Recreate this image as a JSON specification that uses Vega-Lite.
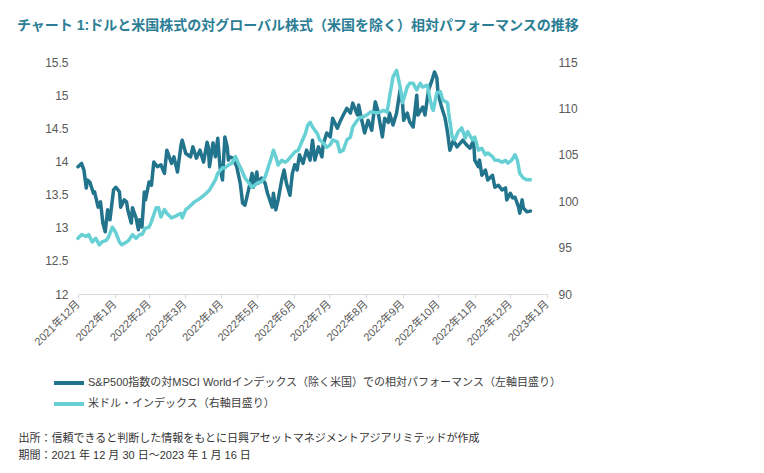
{
  "$schema": "https://vega.github.io/schema/vega-lite/v6.json",
  "autosize": {"type": "none"},
  "width": 469,
  "height": 232,
  "padding": {"left": 78, "top": 62, "right": 217, "bottom": 179},
  "background": "white",
  "config": {
    "view": {"stroke": null},
    "font": "Liberation Sans, Noto Sans CJK JP",
    "axis": {"grid": false, "labelFont": "Liberation Sans, Noto Sans CJK JP", "titleFont": "Liberation Sans, Noto Sans CJK JP"},
    "legend": {"labelFont": "Liberation Sans, Noto Sans CJK JP"}
  },
  "title": {
    "text": "チャート 1:ドルと米国株式の対グローバル株式（米国を除く）相対パフォーマンスの推移",
    "anchor": "start",
    "frame": "group",
    "dx": -61,
    "offset": 23,
    "fontSize": 14,
    "fontWeight": "bold",
    "color": "#2B7E95",
    "font": "Liberation Sans, Noto Sans CJK JP"
  },
  "datasets": {
    "sp": [
      {"d": "2021-12-30", "v": 13.92}, {"d": "2022-01-02", "v": 13.97}, {"d": "2022-01-04", "v": 13.87}, {"d": "2022-01-06", "v": 13.6},
      {"d": "2022-01-07", "v": 13.72}, {"d": "2022-01-09", "v": 13.69}, {"d": "2022-01-12", "v": 13.52}, {"d": "2022-01-13", "v": 13.54},
      {"d": "2022-01-16", "v": 13.31}, {"d": "2022-01-18", "v": 13.39}, {"d": "2022-01-20", "v": 13.07}, {"d": "2022-01-22", "v": 12.94},
      {"d": "2022-01-24", "v": 13.27}, {"d": "2022-01-26", "v": 13.12}, {"d": "2022-01-29", "v": 13.57}, {"d": "2022-01-31", "v": 13.61},
      {"d": "2022-02-03", "v": 13.54}, {"d": "2022-02-04", "v": 13.31}, {"d": "2022-02-07", "v": 13.42}, {"d": "2022-02-09", "v": 13.39},
      {"d": "2022-02-10", "v": 13.27}, {"d": "2022-02-13", "v": 13.07}, {"d": "2022-02-14", "v": 13.3}, {"d": "2022-02-17", "v": 13.15},
      {"d": "2022-02-19", "v": 12.97}, {"d": "2022-02-20", "v": 13.12}, {"d": "2022-02-22", "v": 13.01}, {"d": "2022-02-24", "v": 13.54},
      {"d": "2022-02-25", "v": 13.42}, {"d": "2022-02-28", "v": 13.69}, {"d": "2022-03-02", "v": 13.64}, {"d": "2022-03-04", "v": 13.99},
      {"d": "2022-03-07", "v": 13.92}, {"d": "2022-03-10", "v": 13.95}, {"d": "2022-03-13", "v": 13.82}, {"d": "2022-03-15", "v": 14.17},
      {"d": "2022-03-19", "v": 13.97}, {"d": "2022-03-21", "v": 14.07}, {"d": "2022-03-24", "v": 13.84}, {"d": "2022-03-27", "v": 14.25},
      {"d": "2022-03-28", "v": 14.32}, {"d": "2022-03-31", "v": 14.12}, {"d": "2022-04-04", "v": 14.07}, {"d": "2022-04-06", "v": 14.22},
      {"d": "2022-04-09", "v": 14.05}, {"d": "2022-04-12", "v": 14.17}, {"d": "2022-04-15", "v": 13.99}, {"d": "2022-04-18", "v": 14.29},
      {"d": "2022-04-19", "v": 14.22}, {"d": "2022-04-20", "v": 13.92}, {"d": "2022-04-23", "v": 14.28}, {"d": "2022-04-25", "v": 14.07},
      {"d": "2022-04-27", "v": 14.35}, {"d": "2022-04-29", "v": 13.9}, {"d": "2022-05-01", "v": 13.72}, {"d": "2022-05-03", "v": 14.37},
      {"d": "2022-05-05", "v": 14.22}, {"d": "2022-05-06", "v": 14.02}, {"d": "2022-05-07", "v": 14.07}, {"d": "2022-05-10", "v": 14.05},
      {"d": "2022-05-13", "v": 13.92}, {"d": "2022-05-16", "v": 13.67}, {"d": "2022-05-18", "v": 13.37}, {"d": "2022-05-20", "v": 13.34},
      {"d": "2022-05-23", "v": 13.57}, {"d": "2022-05-26", "v": 13.82}, {"d": "2022-05-27", "v": 13.61}, {"d": "2022-05-30", "v": 13.84},
      {"d": "2022-05-31", "v": 13.67}, {"d": "2022-06-03", "v": 13.75}, {"d": "2022-06-06", "v": 13.67}, {"d": "2022-06-08", "v": 13.52},
      {"d": "2022-06-12", "v": 13.31}, {"d": "2022-06-13", "v": 13.52}, {"d": "2022-06-15", "v": 13.27}, {"d": "2022-06-17", "v": 13.42},
      {"d": "2022-06-20", "v": 13.72}, {"d": "2022-06-22", "v": 13.87}, {"d": "2022-06-24", "v": 13.67}, {"d": "2022-06-27", "v": 13.49},
      {"d": "2022-06-29", "v": 13.82}, {"d": "2022-07-01", "v": 13.95}, {"d": "2022-07-03", "v": 13.87}, {"d": "2022-07-05", "v": 14.1},
      {"d": "2022-07-08", "v": 13.97}, {"d": "2022-07-11", "v": 14.17}, {"d": "2022-07-14", "v": 14.02}, {"d": "2022-07-16", "v": 14.32},
      {"d": "2022-07-18", "v": 14.02}, {"d": "2022-07-21", "v": 14.22}, {"d": "2022-07-24", "v": 14.07}, {"d": "2022-07-25", "v": 14.25},
      {"d": "2022-07-28", "v": 14.43}, {"d": "2022-07-31", "v": 14.37}, {"d": "2022-08-02", "v": 14.65}, {"d": "2022-08-06", "v": 14.5},
      {"d": "2022-08-08", "v": 14.59}, {"d": "2022-08-11", "v": 14.7}, {"d": "2022-08-14", "v": 14.8}, {"d": "2022-08-17", "v": 14.73},
      {"d": "2022-08-19", "v": 14.88}, {"d": "2022-08-23", "v": 14.7}, {"d": "2022-08-24", "v": 14.85}, {"d": "2022-08-27", "v": 14.59},
      {"d": "2022-08-29", "v": 14.43}, {"d": "2022-09-01", "v": 14.62}, {"d": "2022-09-04", "v": 14.47}, {"d": "2022-09-07", "v": 14.9},
      {"d": "2022-09-09", "v": 14.78}, {"d": "2022-09-13", "v": 14.37}, {"d": "2022-09-15", "v": 14.65}, {"d": "2022-09-18", "v": 14.59},
      {"d": "2022-09-19", "v": 14.73}, {"d": "2022-09-22", "v": 14.55}, {"d": "2022-09-25", "v": 14.73}, {"d": "2022-09-28", "v": 15.08},
      {"d": "2022-09-30", "v": 14.88}, {"d": "2022-10-01", "v": 14.62}, {"d": "2022-10-04", "v": 14.73}, {"d": "2022-10-06", "v": 14.6},
      {"d": "2022-10-09", "v": 14.52}, {"d": "2022-10-12", "v": 15.0}, {"d": "2022-10-13", "v": 14.7}, {"d": "2022-10-17", "v": 14.82},
      {"d": "2022-10-19", "v": 14.7}, {"d": "2022-10-22", "v": 15.08}, {"d": "2022-10-25", "v": 15.23}, {"d": "2022-10-27", "v": 15.35},
      {"d": "2022-10-29", "v": 15.26}, {"d": "2022-10-30", "v": 15.03}, {"d": "2022-11-02", "v": 14.82}, {"d": "2022-11-05", "v": 14.65},
      {"d": "2022-11-07", "v": 14.44}, {"d": "2022-11-09", "v": 14.17}, {"d": "2022-11-12", "v": 14.32}, {"d": "2022-11-15", "v": 14.22},
      {"d": "2022-11-18", "v": 14.28}, {"d": "2022-11-20", "v": 14.32}, {"d": "2022-11-23", "v": 14.25}, {"d": "2022-11-26", "v": 14.2},
      {"d": "2022-11-29", "v": 14.32}, {"d": "2022-11-30", "v": 14.02}, {"d": "2022-12-03", "v": 13.92}, {"d": "2022-12-04", "v": 14.02},
      {"d": "2022-12-06", "v": 13.79}, {"d": "2022-12-09", "v": 13.87}, {"d": "2022-12-11", "v": 13.72}, {"d": "2022-12-15", "v": 13.79},
      {"d": "2022-12-17", "v": 13.61}, {"d": "2022-12-20", "v": 13.64}, {"d": "2022-12-23", "v": 13.57}, {"d": "2022-12-26", "v": 13.6},
      {"d": "2022-12-27", "v": 13.42}, {"d": "2022-12-30", "v": 13.52}, {"d": "2023-01-01", "v": 13.45}, {"d": "2023-01-03", "v": 13.46},
      {"d": "2023-01-06", "v": 13.31}, {"d": "2023-01-07", "v": 13.22}, {"d": "2023-01-09", "v": 13.42}, {"d": "2023-01-10", "v": 13.3},
      {"d": "2023-01-13", "v": 13.24}, {"d": "2023-01-16", "v": 13.25}
    ],
    "usd": [
      {"d": "2021-12-30", "v": 96.0}, {"d": "2022-01-02", "v": 96.4}, {"d": "2022-01-06", "v": 96.2}, {"d": "2022-01-08", "v": 96.4},
      {"d": "2022-01-11", "v": 95.6}, {"d": "2022-01-14", "v": 96.0}, {"d": "2022-01-17", "v": 95.3}, {"d": "2022-01-19", "v": 95.6},
      {"d": "2022-01-23", "v": 95.8}, {"d": "2022-01-25", "v": 96.2}, {"d": "2022-01-28", "v": 97.2}, {"d": "2022-01-31", "v": 96.6},
      {"d": "2022-02-03", "v": 95.6}, {"d": "2022-02-05", "v": 95.3}, {"d": "2022-02-09", "v": 95.6}, {"d": "2022-02-11", "v": 95.8},
      {"d": "2022-02-14", "v": 96.4}, {"d": "2022-02-17", "v": 96.0}, {"d": "2022-02-20", "v": 96.4}, {"d": "2022-02-22", "v": 96.4},
      {"d": "2022-02-25", "v": 97.1}, {"d": "2022-02-28", "v": 97.2}, {"d": "2022-03-02", "v": 97.8}, {"d": "2022-03-06", "v": 99.3},
      {"d": "2022-03-08", "v": 99.3}, {"d": "2022-03-10", "v": 98.3}, {"d": "2022-03-13", "v": 99.1}, {"d": "2022-03-15", "v": 98.7},
      {"d": "2022-03-19", "v": 98.2}, {"d": "2022-03-21", "v": 98.3}, {"d": "2022-03-24", "v": 98.5}, {"d": "2022-03-27", "v": 98.7},
      {"d": "2022-03-28", "v": 98.2}, {"d": "2022-03-31", "v": 99.1}, {"d": "2022-04-03", "v": 99.4}, {"d": "2022-04-07", "v": 99.9},
      {"d": "2022-04-12", "v": 100.3}, {"d": "2022-04-16", "v": 100.7}, {"d": "2022-04-20", "v": 101.2}, {"d": "2022-04-25", "v": 102.3},
      {"d": "2022-04-27", "v": 103.0}, {"d": "2022-05-01", "v": 103.6}, {"d": "2022-05-03", "v": 103.6}, {"d": "2022-05-06", "v": 103.9},
      {"d": "2022-05-09", "v": 104.1}, {"d": "2022-05-12", "v": 104.8}, {"d": "2022-05-14", "v": 104.2}, {"d": "2022-05-17", "v": 103.4},
      {"d": "2022-05-20", "v": 102.5}, {"d": "2022-05-23", "v": 102.0}, {"d": "2022-05-26", "v": 101.5}, {"d": "2022-05-28", "v": 101.7},
      {"d": "2022-05-31", "v": 102.0}, {"d": "2022-06-03", "v": 102.1}, {"d": "2022-06-06", "v": 102.6}, {"d": "2022-06-08", "v": 103.4},
      {"d": "2022-06-12", "v": 105.0}, {"d": "2022-06-13", "v": 105.5}, {"d": "2022-06-15", "v": 104.8}, {"d": "2022-06-17", "v": 103.9},
      {"d": "2022-06-20", "v": 104.4}, {"d": "2022-06-23", "v": 104.2}, {"d": "2022-06-25", "v": 104.4}, {"d": "2022-06-29", "v": 105.0},
      {"d": "2022-07-01", "v": 105.3}, {"d": "2022-07-04", "v": 105.5}, {"d": "2022-07-07", "v": 106.4}, {"d": "2022-07-10", "v": 107.3},
      {"d": "2022-07-12", "v": 108.2}, {"d": "2022-07-14", "v": 108.5}, {"d": "2022-07-16", "v": 108.0}, {"d": "2022-07-20", "v": 107.3},
      {"d": "2022-07-22", "v": 106.6}, {"d": "2022-07-25", "v": 106.3}, {"d": "2022-07-28", "v": 105.8}, {"d": "2022-07-31", "v": 106.1},
      {"d": "2022-08-02", "v": 106.6}, {"d": "2022-08-06", "v": 106.4}, {"d": "2022-08-08", "v": 105.3}, {"d": "2022-08-11", "v": 105.5},
      {"d": "2022-08-14", "v": 106.6}, {"d": "2022-08-17", "v": 106.9}, {"d": "2022-08-19", "v": 108.0}, {"d": "2022-08-23", "v": 108.75},
      {"d": "2022-08-25", "v": 109.0}, {"d": "2022-08-28", "v": 109.1}, {"d": "2022-08-31", "v": 109.3}, {"d": "2022-09-03", "v": 109.6},
      {"d": "2022-09-05", "v": 109.6}, {"d": "2022-09-08", "v": 109.5}, {"d": "2022-09-11", "v": 109.6}, {"d": "2022-09-14", "v": 109.8},
      {"d": "2022-09-17", "v": 109.6}, {"d": "2022-09-19", "v": 111.2}, {"d": "2022-09-22", "v": 113.4}, {"d": "2022-09-25", "v": 114.1},
      {"d": "2022-09-28", "v": 112.3}, {"d": "2022-09-30", "v": 110.6}, {"d": "2022-10-04", "v": 112.3}, {"d": "2022-10-06", "v": 112.7},
      {"d": "2022-10-09", "v": 112.7}, {"d": "2022-10-12", "v": 112.0}, {"d": "2022-10-15", "v": 112.7}, {"d": "2022-10-17", "v": 112.3},
      {"d": "2022-10-21", "v": 112.5}, {"d": "2022-10-23", "v": 111.2}, {"d": "2022-10-25", "v": 110.0}, {"d": "2022-10-26", "v": 109.8},
      {"d": "2022-10-29", "v": 111.7}, {"d": "2022-11-01", "v": 111.8}, {"d": "2022-11-03", "v": 110.9}, {"d": "2022-11-07", "v": 110.6},
      {"d": "2022-11-08", "v": 109.5}, {"d": "2022-11-11", "v": 106.9}, {"d": "2022-11-13", "v": 106.6}, {"d": "2022-11-16", "v": 107.5},
      {"d": "2022-11-19", "v": 107.9}, {"d": "2022-11-22", "v": 106.8}, {"d": "2022-11-24", "v": 107.5}, {"d": "2022-11-28", "v": 106.6},
      {"d": "2022-11-30", "v": 106.9}, {"d": "2022-12-03", "v": 105.5}, {"d": "2022-12-06", "v": 105.7}, {"d": "2022-12-09", "v": 105.0},
      {"d": "2022-12-11", "v": 105.2}, {"d": "2022-12-15", "v": 104.8}, {"d": "2022-12-17", "v": 104.4}, {"d": "2022-12-20", "v": 104.4},
      {"d": "2022-12-23", "v": 104.2}, {"d": "2022-12-26", "v": 104.4}, {"d": "2022-12-28", "v": 104.1}, {"d": "2022-12-31", "v": 104.4},
      {"d": "2023-01-03", "v": 105.0}, {"d": "2023-01-05", "v": 104.4}, {"d": "2023-01-07", "v": 103.0}, {"d": "2023-01-10", "v": 102.5},
      {"d": "2023-01-13", "v": 102.3}, {"d": "2023-01-16", "v": 102.3}
    ]
  },
  "encoding": {
    "x": {
      "field": "d",
      "type": "temporal",
      "scale": {
        "type": "utc",
        "domain": [{"year": 2021, "month": 12, "date": 30, "utc": true}, {"year": 2023, "month": 1, "date": 30, "utc": true}]
      },
      "axis": {
        "values": [
          {"year": 2021, "month": 12, "date": 30, "utc": true},
          {"year": 2022, "month": 1, "date": 30, "utc": true},
          {"year": 2022, "month": 2, "date": 28, "utc": true},
          {"year": 2022, "month": 3, "date": 30, "utc": true},
          {"year": 2022, "month": 4, "date": 30, "utc": true},
          {"year": 2022, "month": 5, "date": 30, "utc": true},
          {"year": 2022, "month": 6, "date": 30, "utc": true},
          {"year": 2022, "month": 7, "date": 30, "utc": true},
          {"year": 2022, "month": 8, "date": 30, "utc": true},
          {"year": 2022, "month": 9, "date": 30, "utc": true},
          {"year": 2022, "month": 10, "date": 30, "utc": true},
          {"year": 2022, "month": 11, "date": 30, "utc": true},
          {"year": 2022, "month": 12, "date": 30, "utc": true},
          {"year": 2023, "month": 1, "date": 30, "utc": true}
        ],
        "labelExpr": "utcFormat(datum.value, '%Y') + '年' + utcFormat(datum.value, '%-m') + '月'",
        "labelAngle": -45,
        "labelAlign": "right",
        "labelBaseline": "middle",
        "labelFontSize": 11,
        "labelColor": "#595959",
        "labelPadding": 4,
        "labelOverlap": false,
        "labelFlush": false,
        "domainColor": "#D9D9D9",
        "tickColor": "#D9D9D9",
        "tickSize": 4,
        "title": ["出所：信頼できると判断した情報をもとに日興アセットマネジメントアジアリミテッドが作成", "期間：2021 年 12 月 30 日～2023 年 1 月 16 日"],
        "titleX": -60,
        "titleY": 138,
        "titleAlign": "left",
        "titleBaseline": "top",
        "titleAngle": 0,
        "titleFontSize": 11,
        "titleFontWeight": "normal",
        "titleColor": "#333333",
        "titleLineHeight": 17
      }
    }
  },
  "layer": [
    {
      "data": {"name": "sp"},
      "mark": {"type": "line", "strokeWidth": 3.5, "strokeJoin": "round", "strokeCap": "round"},
      "encoding": {
        "y": {
          "field": "v",
          "type": "quantitative",
          "scale": {"domain": [12, 15.5], "nice": false, "zero": false},
          "axis": {
            "orient": "left",
            "values": [12, 12.5, 13, 13.5, 14, 14.5, 15, 15.5],
            "format": "~g",
            "domain": false,
            "ticks": false,
            "labelFontSize": 12,
            "labelColor": "#595959",
            "labelPadding": 10,
            "title": null
          }
        },
        "color": {
          "datum": "S&P500指数の対MSCI Worldインデックス（除く米国）での相対パフォーマンス（左軸目盛り）",
          "type": "nominal",
          "scale": {
            "domain": ["S&P500指数の対MSCI Worldインデックス（除く米国）での相対パフォーマンス（左軸目盛り）", "米ドル・インデックス（右軸目盛り）"],
            "range": ["#22738C", "#66D0D4"]
          },
          "legend": {
            "orient": "none",
            "legendX": -21,
            "legendY": 309,
            "direction": "vertical",
            "title": null,
            "padding": 0,
            "symbolType": "M-1.5,0H1.5",
            "symbolSize": 400,
            "symbolStrokeWidth": 4,
            "labelFontSize": 11,
            "labelColor": "#404040",
            "labelOffset": 7,
            "labelLimit": 700,
            "rowPadding": 1
          }
        }
      }
    },
    {
      "data": {"name": "usd"},
      "mark": {"type": "line", "strokeWidth": 3.5, "strokeJoin": "round", "strokeCap": "round"},
      "encoding": {
        "y": {
          "field": "v",
          "type": "quantitative",
          "scale": {"domain": [90, 115], "nice": false, "zero": false},
          "axis": {
            "orient": "right",
            "values": [90, 95, 100, 105, 110, 115],
            "domain": false,
            "ticks": false,
            "labelFontSize": 12,
            "labelColor": "#595959",
            "labelPadding": 11,
            "title": null
          }
        },
        "color": {
          "datum": "米ドル・インデックス（右軸目盛り）",
          "type": "nominal"
        }
      }
    }
  ],
  "resolve": {"scale": {"y": "independent"}}
}
